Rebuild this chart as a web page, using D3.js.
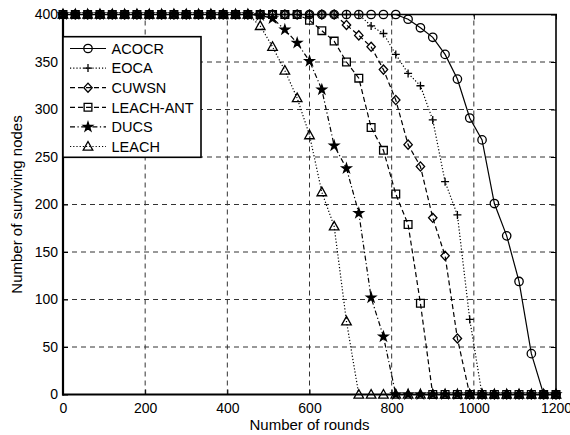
<!DOCTYPE html>
<html><head><meta charset="utf-8">
<script src="https://cdn.jsdelivr.net/npm/d3@7"></script>
<style>
body{margin:0;background:#fff;}
text{font-family:"Liberation Sans",Arial,Helvetica,sans-serif;fill:#000;}
</style></head>
<body><div id="chart"></div>
<script>
// Rounds at which values are recorded (every 30 rounds)
const rounds = [0,30,60,90,120,150,180,210,240,270,300,330,360,390,420,450,480,510,540,570,600,630,660,690,720,750,780,810,840,870,900,930,960,990,1020,1050,1080,1110,1140,1170,1200];

const acocr = [400,400,400,400,400,400,400,400,400,400,400,400,400,400,400,400,400,400,400,400,400,400,400,400,400,400,400,400,395,386,376,358,332,291,268,201,167,119,43,0,0];
const eoca = [400,400,400,400,400,400,400,400,400,400,400,400,400,400,400,400,400,400,400,400,400,400,400,400,400,388,380,358,338,325,289,224,189,79,0,0,0,0,0,0,0];
const cuwsn = [400,400,400,400,400,400,400,400,400,400,400,400,400,400,400,400,400,400,400,400,400,400,400,389,378,366,342,310,263,240,186,146,59,0,0,0,0,0,0,0,0];
const leachAnt = [400,400,400,400,400,400,400,400,400,400,400,400,400,400,400,400,400,400,400,400,394,383,372,350,333,281,257,211,179,96,0,0,0,0,0,0,0,0,0,0,0];
const ducs = [400,400,400,400,400,400,400,400,400,400,400,400,400,400,400,400,399,396,384,370,351,321,262,238,191,102,61,0,0,0,0,0,0,0,0,0,0,0,0,0,0];
const leach = [400,400,400,400,400,400,400,400,400,400,400,400,400,400,400,400,388,366,341,312,273,213,177,77,0,0,0,0,0,0,0,0,0,0,0,0,0,0,0,0,0];

const seriesNames = ["ACOCR","EOCA","CUWSN","LEACH-ANT","DUCS","LEACH"];
const seriesValues = [acocr, eoca, cuwsn, leachAnt, ducs, leach];
const xTicks = [0,200,400,600,800,1000,1200];
const yTicks = [0,50,100,150,200,250,300,350,400];
const xLabel = "Number of rounds";
const yLabel = "Number of surviving nodes";

const styles = [
  {dash:null, marker:"circle"},
  {dash:"1.2,2", marker:"plus"},
  {dash:"5,3", marker:"diamond"},
  {dash:"5,3", marker:"square"},
  {dash:"5,2.5,1.2,2.5", marker:"star"},
  {dash:"1.2,2", marker:"triangle"}
];

const W=570,H=435;
const L=63,R=556,T=14.5,B=394.5;
const svg=d3.select("#chart").append("svg").attr("width",W).attr("height",H);
const x=d3.scaleLinear().domain([0,1200]).range([L,R]);
const y=d3.scaleLinear().domain([0,400]).range([B,T]);

// grid
const grid=svg.append("g").attr("stroke","#333").attr("stroke-width",1).attr("stroke-dasharray","5,4");
xTicks.slice(1,-1).forEach(t=>grid.append("line").attr("x1",x(t)).attr("x2",x(t)).attr("y1",B).attr("y2",T));
yTicks.slice(1,-1).forEach(t=>grid.append("line").attr("y1",y(t)).attr("y2",y(t)).attr("x1",L).attr("x2",R));

// axes
const ax=svg.append("g").attr("transform",`translate(0,${B})`).call(d3.axisBottom(x).tickValues(xTicks).tickSize(-5).tickPadding(9).tickFormat(d3.format("d")));
const ay=svg.append("g").attr("transform",`translate(${L},0)`).call(d3.axisLeft(y).tickValues(yTicks).tickSize(-5).tickPadding(5).tickFormat(d3.format("d")));
const at=svg.append("g").attr("transform",`translate(0,${T})`).call(d3.axisTop(x).tickValues(xTicks).tickSize(-5).tickFormat(""));
const ar=svg.append("g").attr("transform",`translate(${R},0)`).call(d3.axisRight(y).tickValues(yTicks).tickSize(-5).tickFormat(""));
[ax,ay,at,ar].forEach(g=>{g.selectAll("text").style("font-size","14px").style("font-family","'Liberation Sans',Arial,sans-serif").attr("fill","#000");g.selectAll("line").attr("stroke","#000");g.select(".domain").remove();});
svg.append("line").attr("x1",L).attr("x2",L).attr("y1",T).attr("y2",B+1).attr("stroke","#000").attr("stroke-width",2.2);
svg.append("line").attr("x1",L-1).attr("x2",R+1).attr("y1",B).attr("y2",B).attr("stroke","#000").attr("stroke-width",2.2);
svg.append("line").attr("x1",L).attr("x2",R+1).attr("y1",T).attr("y2",T).attr("stroke","#000").attr("stroke-width",1.6);
svg.append("line").attr("x1",R).attr("x2",R).attr("y1",T).attr("y2",B).attr("stroke","#000").attr("stroke-width",1.6);

// axis labels
svg.append("text").attr("x",(L+R)/2).attr("y",430).attr("text-anchor","middle").style("font-size","15px").text(xLabel);
svg.append("text").attr("transform",`translate(22,${(T+B)/2}) rotate(-90)`).attr("text-anchor","middle").style("font-size","15px").text(yLabel);

function drawMarker(g,type,cx,cy){
  const s=g.append("g").attr("transform",`translate(${cx},${cy})`).attr("fill","none").attr("stroke","#000").attr("stroke-width",1.3);
  if(type==="circle") s.append("circle").attr("r",4.2);
  else if(type==="plus") s.append("path").attr("d","M-4,0H4M0,-4V4");
  else if(type==="diamond") s.append("path").attr("d","M0,-4.6L4.2,0L0,4.6L-4.2,0Z");
  else if(type==="square") s.append("path").attr("d",d3.symbol(d3.symbolSquare,60)());
  else if(type==="star") s.append("path").attr("d",d3.symbol(d3.symbolStar,26)()).attr("fill","#000");
  else if(type==="triangle") s.append("path").attr("d","M0,-5L4.8,3.6L-4.8,3.6Z");
}

const line=d3.line().x(d=>x(d[0])).y(d=>y(d[1]));
seriesValues.forEach((vals,i)=>{
  const pts=rounds.map((r,j)=>[r,vals[j]]);
  const g=svg.append("g");
  g.append("path").attr("d",line(pts)).attr("fill","none").attr("stroke","#000").attr("stroke-width",1.2)
    .attr("stroke-dasharray",styles[i].dash);
  pts.forEach(p=>drawMarker(g,styles[i].marker,x(p[0]),y(p[1])));
});

// legend
const lg=svg.append("g");
lg.append("rect").attr("x",L).attr("y",36.7).attr("width",201-L).attr("height",157.3-36.7).attr("fill","#fff").attr("stroke","#000").attr("stroke-width",1.6);
seriesNames.forEach((n,i)=>{
  const yy=48.5+i*19.6;
  lg.append("line").attr("x1",70).attr("x2",106).attr("y1",yy).attr("y2",yy).attr("stroke","#000").attr("stroke-width",1.2).attr("stroke-dasharray",styles[i].dash);
  drawMarker(lg,styles[i].marker,88,yy);
  lg.append("text").attr("x",111.5).attr("y",yy).attr("dy","0.36em").style("font-size","14.5px").text(n);
});
</script></body></html>
